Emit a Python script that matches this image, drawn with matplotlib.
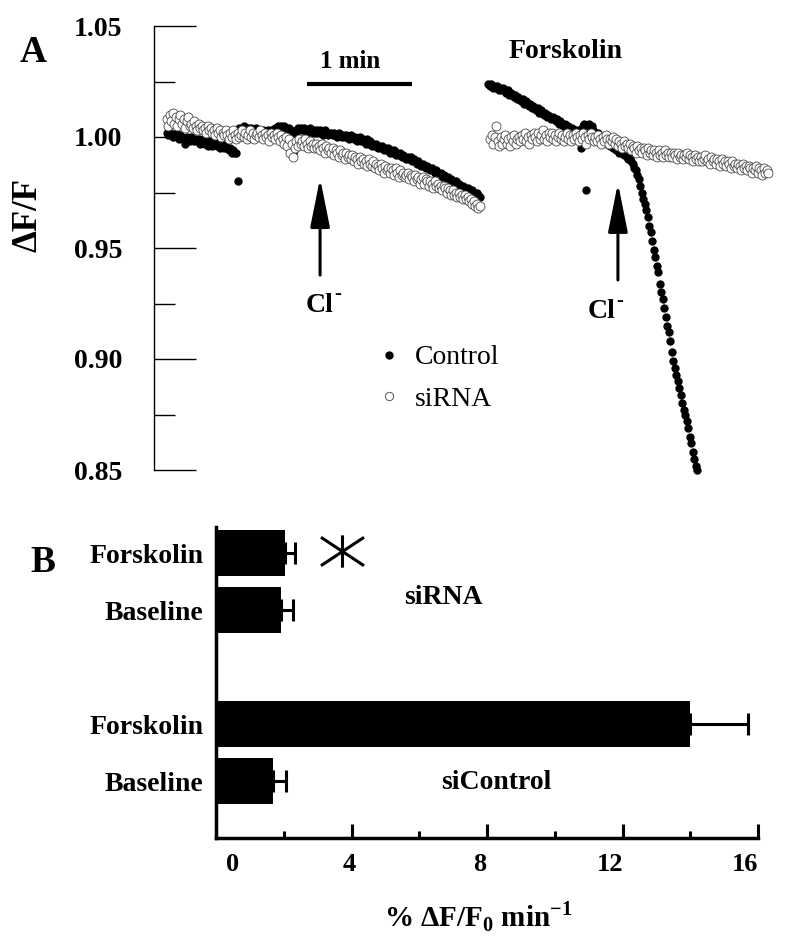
import numpy as np
import matplotlib.pyplot as plt
from matplotlib.lines import Line2D
from matplotlib.path import Path
from matplotlib.transforms import ScaledTranslation

plt.rcParams['font.family'] = ['Liberation Serif', 'DejaVu Serif']
plt.rcParams['mathtext.fontset'] = 'custom'
plt.rcParams['mathtext.rm'] = 'Liberation Serif'
plt.rcParams['mathtext.bf'] = 'Liberation Serif:bold'

# ---------------- Panel A: dF/F traces (one sample every dt seconds)
dt = 0.86
t0_left = 7.4        # s, start of baseline recordings
t0_right_ctrl = 190.9  # s, start of forskolin recordings
t0_right_si = 192.0

ctrl_left = [
    1.002, 1.001, 1.002, 1.001, 1.000, 1.001, 1.002, 1.000, 0.999, 1.001,
    1.000, 0.999, 0.997, 1.000, 0.999, 0.998, 1.000, 0.999, 0.998, 0.999,
    0.998, 0.999, 0.997, 0.998, 0.999, 0.997, 0.998, 0.996, 0.998, 0.997,
    0.996, 0.997, 0.998, 0.996, 0.997, 0.995, 0.996, 0.997, 0.995, 0.996,
    0.995, 0.994, 0.995, 0.993, 0.994, 0.993, 0.993, 0.980,
    1.004, 1.003, 1.004, 1.005, 1.004, 1.003, 1.004, 1.003, 1.004, 1.003,
    1.003, 1.004, 1.003, 1.002, 1.003, 1.002, 1.003, 1.002, 1.002, 1.003,
    1.002, 1.003, 1.002, 1.003, 1.004, 1.003, 1.005, 1.004, 1.005, 1.004,
    1.005, 1.004, 1.003, 1.004, 1.003, 1.002, 0.993,
    1.001, 1.003, 1.004, 1.003, 1.004,
    1.003, 1.004, 1.003, 1.002, 1.003, 1.004, 1.003, 1.002, 1.003, 1.002,
    1.003, 1.002, 1.003, 1.002, 1.001, 1.003, 1.002, 1.001, 1.002, 1.002,
    1.001, 1.002, 1.001, 1.000, 1.002, 1.001, 1.000, 1.001, 1.000, 1.001,
    1.000, 0.999, 1.001, 1.000, 0.999, 1.000, 0.998, 0.999, 1.000, 0.998,
    0.999, 0.998, 0.997, 0.999, 0.997, 0.998, 0.996, 0.997, 0.996, 0.997,
    0.995, 0.996, 0.995, 0.996, 0.994, 0.995, 0.994, 0.995, 0.993, 0.994,
    0.993, 0.994, 0.992, 0.993, 0.992, 0.993, 0.991, 0.992, 0.991, 0.990,
    0.991, 0.990, 0.991, 0.989, 0.990, 0.989, 0.988, 0.989, 0.988, 0.987,
    0.988, 0.987, 0.986, 0.987, 0.986, 0.985, 0.986, 0.985, 0.984, 0.985,
    0.984, 0.983, 0.984, 0.982, 0.983, 0.982, 0.981, 0.982, 0.980, 0.981,
    0.980, 0.979, 0.980, 0.978, 0.979, 0.978, 0.977, 0.978, 0.977, 0.976,
    0.977, 0.976, 0.975, 0.976, 0.975, 0.974, 0.975, 0.974, 0.973,
]

si_left = [
    1.008, 1.005, 1.010, 1.007, 1.011, 1.006, 1.009, 1.005, 1.008, 1.010,
    1.006, 1.008, 1.004, 1.007, 1.009, 1.005, 1.006, 1.004, 1.007, 1.005,
    1.003, 1.006, 1.004, 1.005, 1.003, 1.004, 1.002, 1.005, 1.003, 1.004,
    1.002, 1.003, 1.001, 1.004, 1.002, 1.003, 1.000, 1.002, 1.001, 1.003,
    1.001, 0.999, 1.002, 1.000, 1.003, 1.001, 0.999, 1.002, 1.000, 1.001,
    1.003, 1.000, 1.002, 0.999, 1.001, 1.003, 1.000, 1.002, 0.999, 1.001,
    1.002, 1.000, 1.003, 1.001, 0.999, 1.002, 1.000, 1.001, 0.998, 1.002,
    1.000, 1.001, 0.999, 1.002, 1.000, 0.998, 1.001, 0.999, 0.997, 1.000,
    0.996, 0.999, 0.993, 0.997, 0.991, 0.995, 0.998, 0.996, 0.999, 0.997,
    0.998, 0.996, 0.999, 0.997, 0.995, 0.998, 0.996, 0.997, 0.995, 0.997,
    0.995, 0.996, 0.994, 0.997, 0.995, 0.993, 0.996, 0.994, 0.995, 0.993,
    0.995, 0.992, 0.994, 0.993, 0.991, 0.994, 0.992, 0.993, 0.990, 0.993,
    0.991, 0.992, 0.990, 0.992, 0.989, 0.991, 0.990, 0.988, 0.991, 0.989,
    0.990, 0.988, 0.989, 0.987, 0.990, 0.988, 0.987, 0.989, 0.986, 0.988,
    0.987, 0.985, 0.988, 0.986, 0.984, 0.987, 0.985, 0.986, 0.984, 0.986,
    0.985, 0.983, 0.986, 0.984, 0.982, 0.985, 0.983, 0.984, 0.982, 0.983,
    0.984, 0.981, 0.983, 0.982, 0.980, 0.983, 0.981, 0.982, 0.979, 0.981,
    0.982, 0.979, 0.981, 0.980, 0.978, 0.980, 0.979, 0.977, 0.980, 0.978,
    0.979, 0.977, 0.978, 0.976, 0.978, 0.977, 0.975, 0.977, 0.976, 0.974,
    0.976, 0.974, 0.975, 0.973, 0.975, 0.973, 0.974, 0.972, 0.974, 0.972,
    0.973, 0.971, 0.972, 0.970, 0.971, 0.969, 0.970, 0.968, 0.969,
]

ctrl_right = [
    1.024, 1.023, 1.024, 1.022, 1.023, 1.022, 1.023, 1.021, 1.022, 1.021,
    1.022, 1.021, 1.020, 1.021, 1.019, 1.020, 1.019, 1.018, 1.019, 1.017,
    1.018, 1.017, 1.016, 1.017, 1.015, 1.016, 1.015, 1.014, 1.015, 1.013,
    1.014, 1.013, 1.012, 1.013, 1.011, 1.012, 1.011, 1.010, 1.011, 1.009,
    1.010, 1.009, 1.008, 1.009, 1.008, 1.007, 1.008, 1.006, 1.007, 1.006,
    1.005, 1.006, 1.004, 1.005, 1.004, 1.003, 1.004, 1.003, 1.002, 1.003,
    1.002, 1.003, 0.995, 1.005, 1.006, 0.976, 1.005, 1.006, 1.004, 1.005,
    1.003, 1.002, 1.001, 1.002, 1.000, 0.999, 1.000, 0.998, 0.999, 0.997,
    0.998, 0.996, 0.997, 0.995, 0.996, 0.994, 0.995, 0.993, 0.994, 0.993,
    0.992, 0.993, 0.991, 0.990, 0.991, 0.989,
    0.988, 0.986, 0.985, 0.983, 0.981, 0.978, 0.975, 0.972, 0.970, 0.967,
    0.964, 0.960, 0.957, 0.953, 0.949, 0.946, 0.942, 0.939, 0.934, 0.930,
    0.927, 0.923, 0.919, 0.915, 0.912, 0.908, 0.903, 0.899, 0.896, 0.893,
    0.890, 0.887, 0.884, 0.880, 0.877, 0.875, 0.872, 0.869, 0.865, 0.862,
    0.858, 0.855, 0.852, 0.850,
]

si_right = [
    0.999, 1.001, 0.997, 1.000, 1.005, 0.998, 0.996, 1.000, 0.997, 0.999,
    1.001, 0.997, 0.999, 0.996, 1.000, 0.998, 1.001, 0.997, 0.999, 1.000,
    0.998, 1.001, 0.999, 1.002, 0.998, 1.000, 0.997, 1.001, 0.999, 1.002,
    1.000, 0.998, 1.002, 0.999, 1.001, 1.003, 0.999, 1.001, 0.998, 1.002,
    1.000, 1.002, 0.999, 1.001, 0.998, 1.000, 1.002, 0.999, 1.001, 0.998,
    1.000, 1.002, 0.999, 1.001, 0.998, 1.001, 0.999, 1.002, 1.000, 0.998,
    1.001, 0.999, 1.002, 1.000, 0.997, 1.001, 0.999, 1.002, 1.000, 0.998,
    1.000, 0.998, 1.001, 0.999, 0.997, 1.000, 0.998, 1.001, 0.999, 0.997,
    0.999, 0.998, 1.000, 0.997, 0.999, 0.996, 0.998, 0.997, 0.995, 0.998,
    0.996, 0.997, 0.995, 0.997, 0.994, 0.996, 0.995, 0.993, 0.996, 0.994,
    0.995, 0.993, 0.995, 0.994, 0.992, 0.995, 0.993, 0.994, 0.992, 0.994,
    0.993, 0.991, 0.994, 0.992, 0.993, 0.991, 0.994, 0.992, 0.993, 0.991,
    0.993, 0.991, 0.993, 0.992, 0.990, 0.993, 0.991, 0.992, 0.990, 0.992,
    0.991, 0.993, 0.990, 0.992, 0.991, 0.989, 0.992, 0.990, 0.991, 0.989,
    0.991, 0.989, 0.990, 0.992, 0.989, 0.990, 0.988, 0.991, 0.989, 0.990,
    0.988, 0.990, 0.989, 0.987, 0.990, 0.988, 0.989, 0.987, 0.989, 0.988,
    0.986, 0.989, 0.987, 0.988, 0.986, 0.988, 0.987, 0.985, 0.988, 0.986,
    0.987, 0.985, 0.987, 0.986, 0.984, 0.986, 0.985, 0.987, 0.984, 0.986,
    0.985, 0.983, 0.986, 0.984, 0.985, 0.984,
]

# ---------------- Panel B: rate of quench (% dF/F0 per min), mean and SEM
conditions = ["Baseline", "Forskolin", "Baseline", "Forskolin"]
groups = ["siControl", "siRNA"]
rates = [1.68, 13.99, 1.92, 2.04]
sems = [0.39, 1.71, 0.35, 0.29]
bar_pos = [1, 2, 4, 5]

fig = plt.figure(figsize=(7.86, 9.48), dpi=100)

# ---- panel A
px = 1.75  # pixels per second on the time axis
axA = fig.add_axes([154 / 786, 1 - 470 / 948, 632 / 786, 444 / 948])
axA.set_xlim(0, 632 / px)
axA.set_ylim(0.85, 1.05)

for t0, vals in [(t0_left, ctrl_left), (t0_right_ctrl, ctrl_right)]:
    t = t0 + dt * np.arange(len(vals))
    axA.scatter(t, vals, s=36, c='k', linewidths=0, zorder=3, clip_on=False)
for t0, vals in [(t0_left, si_left), (t0_right_si, si_right)]:
    t = t0 + dt * np.arange(len(vals))
    axA.scatter(t, vals, s=42, facecolors='white', edgecolors='#4a4a4a',
                linewidths=0.6, zorder=4, clip_on=False)

for s in ['top', 'right', 'bottom']:
    axA.spines[s].set_visible(False)
axA.spines['left'].set_linewidth(1.0)
axA.set_xticks([])
axA.set_yticks([0.85, 0.90, 0.95, 1.00, 1.05])
axA.set_yticks([0.875, 0.925, 0.975, 1.025], minor=True)
axA.set_yticklabels(['0.85', '0.90', '0.95', '1.00', '1.05'], fontweight='bold')
axA.tick_params(axis='y', which='major', direction='in', length=30, width=1.0,
                pad=23, labelsize=20)
axA.tick_params(axis='y', which='minor', direction='in', length=15, width=1.0)
axA.set_ylabel('ΔF/F', fontsize=25, fontweight='bold')
axA.yaxis.label.set_va('center')
axA.yaxis.set_label_coords(-0.199, 0.574)

# scale bar and annotations
axA.plot([87.4, 147.4], [1.0239, 1.0239], color='k', lw=3, solid_capstyle='butt')
axA.text(112.0, 1.0342, '1 min', ha='center', va='center', fontsize=18, fontweight='bold')
axA.text(234.9, 1.0383, 'Forskolin', ha='center', va='center', fontsize=20, fontweight='bold')
for xa, tip, tail, tx, ty in [(94.9, 0.9815, 0.9378, 94.6, 0.9243),
                              (265.1, 0.9793, 0.9356, 255.6, 0.9212)]:
    axA.annotate('', xy=(xa, tip), xytext=(xa, tail),
                 arrowprops=dict(arrowstyle='-|>,head_length=3.0,head_width=0.6',
                                 lw=2.2, color='k', shrinkA=0, shrinkB=0,
                                 mutation_scale=10))
    axA.text(tx, ty, 'Cl', ha='center', va='center', fontsize=20, fontweight='bold')
    axA.annotate('-', xy=(tx, ty), xytext=(13, 8), textcoords='offset points',
                 ha='center', va='center', fontsize=15, fontweight='bold')

h_ctrl = Line2D([], [], ls='none', marker='o', ms=6, mfc='k', mec='k', mew=0)
h_si = Line2D([], [], ls='none', marker='o', ms=6, mfc='white', mec='#555555', mew=0.7)
axA.legend([h_ctrl, h_si], ['Control', 'siRNA'], loc='upper left',
           bbox_to_anchor=(375 / 786, 1 - 345 / 948), bbox_transform=fig.transFigure,
           frameon=False, fontsize=20, handlelength=1.0, handletextpad=0.45,
           labelspacing=0.57, borderpad=0, borderaxespad=0)

fig.text(33 / 786, 1 - 52 / 948, 'A', ha='center', va='center', fontsize=27, fontweight='bold')

# ---- panel B
axB = fig.add_axes([216 / 786, 1 - 838 / 948, 542 / 786, 311 / 948])
axB.barh(bar_pos, rates, height=0.8, color='k')
axB.errorbar(rates, bar_pos, xerr=[np.zeros(len(rates)), sems], fmt='none',
             ecolor='k', elinewidth=2.2, capsize=8, capthick=2.2)
axB.set_xlim(0, 16)
axB.set_ylim(0, 5.46)
for s in ['top', 'right']:
    axB.spines[s].set_visible(False)
for s in ['left', 'bottom']:
    axB.spines[s].set_linewidth(2.5)
axB.set_yticks(bar_pos)
axB.set_yticklabels(conditions, fontweight='bold', fontsize=20)
axB.tick_params(axis='y', length=0, pad=9)
axB.set_xticks([0, 4, 8, 12, 16])
axB.set_xticks([2, 6, 10, 14], minor=True)
axB.set_xticklabels(['0', '4', '8', '12', '16'], fontweight='bold')
axB.tick_params(axis='x', which='major', direction='in', length=10, width=2.2,
                pad=11, labelsize=19)
axB.tick_params(axis='x', which='minor', direction='in', length=5, width=2.2)
for lab, dx in zip(axB.get_xticklabels(), [17, -2, -7, -12, -13]):
    lab.set_transform(lab.get_transform() + ScaledTranslation(dx / 100, 0, fig.dpi_scale_trans))

axB.set_xlabel(r'% ΔF/F$_\mathbf{0}$ min$^{\mathbf{-1}}$', fontsize=21, fontweight='bold')
axB.xaxis.label.set_va('center')
axB.xaxis.set_label_coords(0.483, -0.254)

axB.text(6.70, 4.23, groups[1], ha='center', va='center', fontsize=20, fontweight='bold')
axB.text(8.27, 0.97, groups[0], ha='center', va='center', fontsize=20, fontweight='bold')

star = Path([(-1, -0.66), (1, 0.66), (-1, 0.66), (1, -0.66), (0, -0.75), (0, 0.75)],
            [Path.MOVETO, Path.LINETO] * 3)
axB.plot([3.72], [5.035], marker=star, ms=31, mew=2.2, color='k', ls='none', clip_on=False)

fig.text(43 / 786, 1 - 562 / 948, 'B', ha='center', va='center', fontsize=27, fontweight='bold')

fig.savefig('out.png', dpi=100)
